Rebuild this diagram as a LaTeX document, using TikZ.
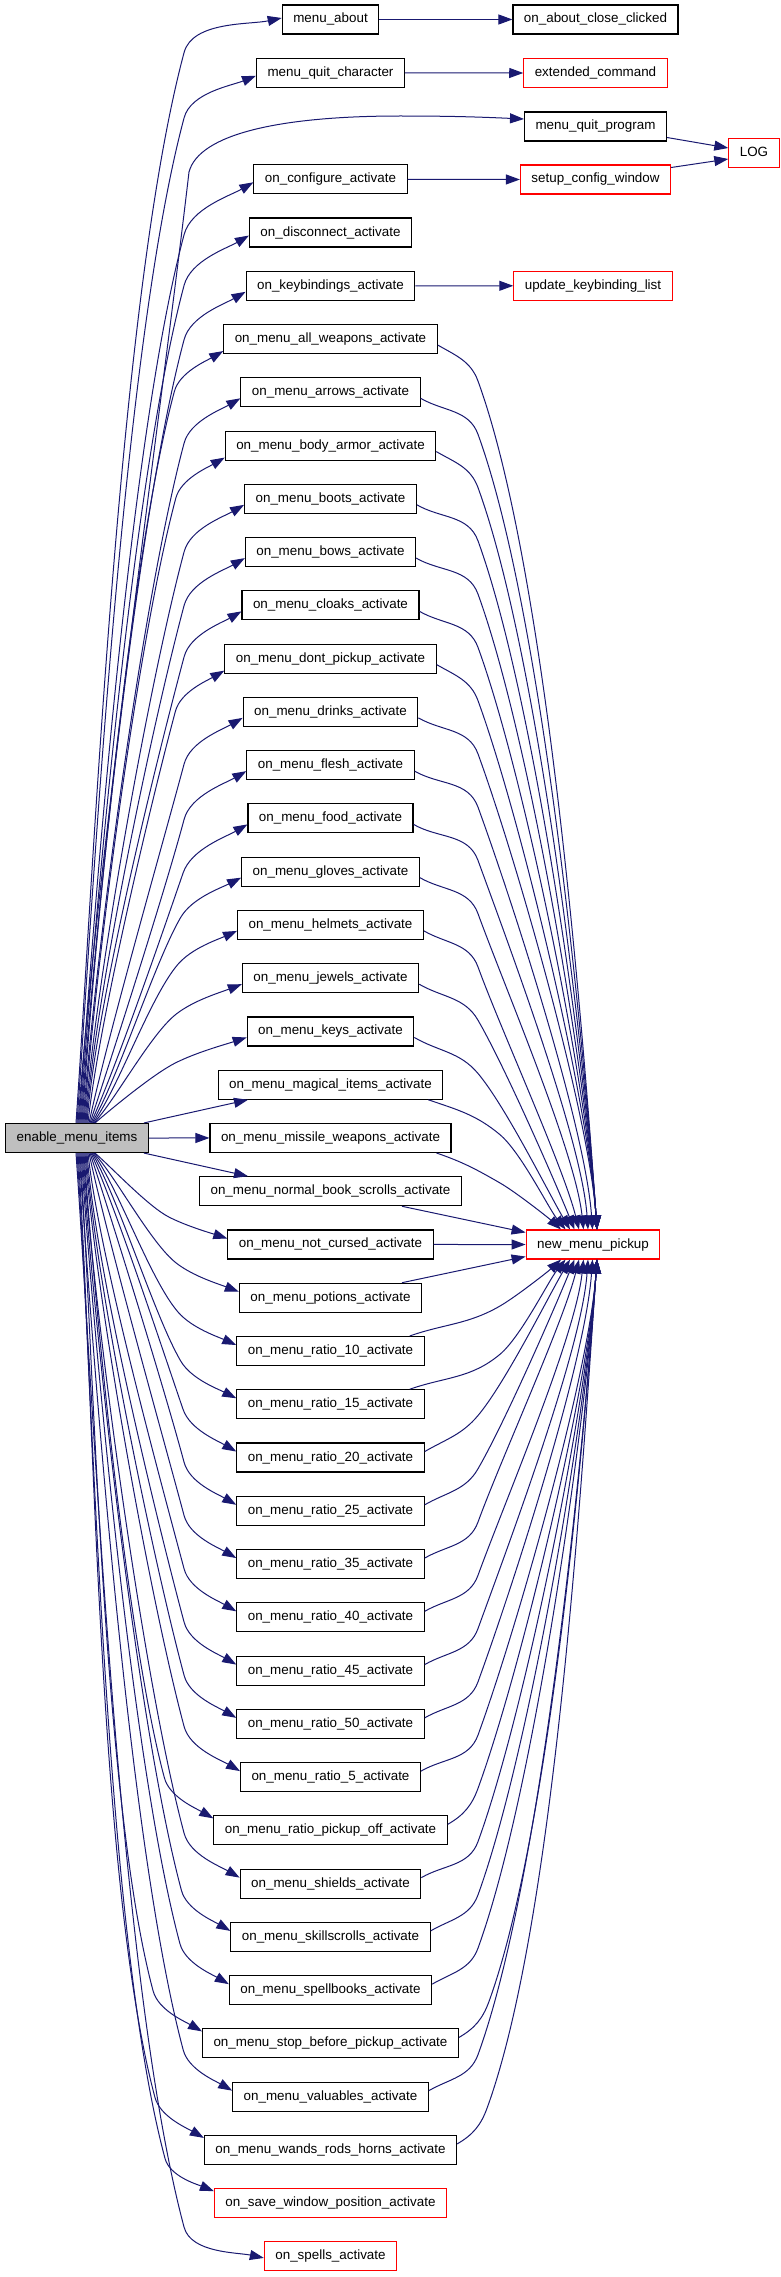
\documentclass[tikz,border=0pt]{standalone}
\usepackage{fontspec}
\setmainfont{Liberation Sans}
\usetikzlibrary{arrows.meta,calc}
\definecolor{edgeblue}{HTML}{191970}
\definecolor{boxgray}{HTML}{BFBFBF}
\newdimen\mywx
\newdimen\mywy
% two cubic pieces: start -> knee -> end, control points computed from
% \qSx \qSy \qSa (start, angle) \qKx \qKy \qKh (knee, heading) \qEx \qEy \qEh (end, heading)
\newcommand\twoseg[3]{%
  \pgfmathsetmacro\vda{\qfa*100*sqrt((((\qKx)-(\qSx))/100)^2+(((\qKy)-(\qSy))/100)^2)}%
  \pgfmathsetmacro\vdb{\qfb*100*sqrt((((\qEx)-(\qKx))/100)^2+(((\qEy)-(\qKy))/100)^2)}%
  \coordinate (#3a) at ({(\qSx)+(\vda)*cos(\qSa)},{(\qSy)+(\vda)*sin(\qSa)});
  \coordinate (#3b) at ({(\qKx)-(\vda)*cos(\qKh)},{(\qKy)-(\vda)*sin(\qKh)});
  \coordinate (#3k) at (\qKx,\qKy);
  \coordinate (#3c) at ({(\qKx)+(\vdb)*cos(\qKh)},{(\qKy)+(\vdb)*sin(\qKh)});
  \coordinate (#3d) at ({(\qEx)-(\vdb)*cos(\qEh)},{(\qEy)-(\vdb)*sin(\qEh)});
  \draw[edge] #1 .. controls (#3a) and (#3b) .. (#3k) .. controls (#3c) and (#3d) .. #2;
}
\begin{document}
\begin{tikzpicture}[x=1pt,y=1pt,
  box/.style={draw=black, line width=1.1pt, fill=white, inner xsep=11pt, inner ysep=0pt,
    minimum height=29pt, text height=10pt, text depth=3pt, font=\fontsize{13.4pt}{16pt}\selectfont},
  redbox/.style={box, draw=red},
  edge/.style={draw=edgeblue, line width=1pt, -{Triangle[length=14pt,width=10pt]}},
]
\useasboundingbox (0,0) rectangle (781,-2277);

% ---------- nodes ----------
\node[box, fill=boxgray] (en) at (77,-1138) {enable\_menu\_items};

\foreach \i/\t/\s in {
 0/menu\_about/box,
 1/menu\_quit\_character/box,
 3/on\_configure\_activate/box,
 4/on\_disconnect\_activate/box,
 5/on\_keybindings\_activate/box,
 6/on\_menu\_all\_weapons\_activate/box,
 7/on\_menu\_arrows\_activate/box,
 8/on\_menu\_body\_armor\_activate/box,
 9/on\_menu\_boots\_activate/box,
 10/on\_menu\_bows\_activate/box,
 11/on\_menu\_cloaks\_activate/box,
 12/on\_menu\_dont\_pickup\_activate/box,
 13/on\_menu\_drinks\_activate/box,
 14/on\_menu\_flesh\_activate/box,
 15/on\_menu\_food\_activate/box,
 16/on\_menu\_gloves\_activate/box,
 17/on\_menu\_helmets\_activate/box,
 18/on\_menu\_jewels\_activate/box,
 19/on\_menu\_keys\_activate/box,
 20/on\_menu\_magical\_items\_activate/box,
 21/on\_menu\_missile\_weapons\_activate/box,
 22/on\_menu\_normal\_book\_scrolls\_activate/box,
 23/on\_menu\_not\_cursed\_activate/box,
 24/on\_menu\_potions\_activate/box,
 25/on\_menu\_ratio\_10\_activate/box,
 26/on\_menu\_ratio\_15\_activate/box,
 27/on\_menu\_ratio\_20\_activate/box,
 28/on\_menu\_ratio\_25\_activate/box,
 29/on\_menu\_ratio\_35\_activate/box,
 30/on\_menu\_ratio\_40\_activate/box,
 31/on\_menu\_ratio\_45\_activate/box,
 32/on\_menu\_ratio\_50\_activate/box,
 33/on\_menu\_ratio\_5\_activate/box,
 34/on\_menu\_ratio\_pickup\_off\_activate/box,
 35/on\_menu\_shields\_activate/box,
 36/on\_menu\_skillscrolls\_activate/box,
 37/on\_menu\_spellbooks\_activate/box,
 38/on\_menu\_stop\_before\_pickup\_activate/box,
 39/on\_menu\_valuables\_activate/box,
 40/on\_menu\_wands\_rods\_horns\_activate/box,
 41/on\_save\_window\_position\_activate/redbox,
 42/on\_spells\_activate/redbox}
{
  \pgfmathsetmacro\vy{-(19.5+53.26*\i)}
  \node[\s] (m\i) at (330.5,\vy) {\t};
}

\node[box]    (about) at (595.5,-19.5)  {on\_about\_close\_clicked};
\node[redbox] (ext)   at (595.5,-73)    {extended\_command};
\node[box]    (qp)    at (595.5,-126.5) {menu\_quit\_program};
\node[redbox] (cfg)   at (595.5,-179.5) {setup\_config\_window};
\node[redbox] (upd)   at (593,-285.8)   {update\_keybinding\_list};
\node[redbox] (nmp)   at (593,-1244.5)  {new\_menu\_pickup};
\node[redbox] (log)   at (754,-153)     {LOG};

% ---------- simple edges ----------
\draw[edge] (m0.east) -- (about.west);
\draw[edge] (m1.east) -- (ext.west);
\draw[edge] (m3.east) -- (cfg.west);
\draw[edge] (m5.east) -- (upd.west);
\draw[edge] ($(qp.east)+(0,-11)$) -- ($(log.west)+(0,5)$);
\draw[edge] ($(cfg.east)+(0,12)$) -- ($(log.west)+(0,-6)$);

\draw[edge] ($(en.north east)+(-5,0)$) -- ($(m20.south)+(-82.5,0)$);
\draw[edge] (en.east) -- (m21.west);
\draw[edge] ($(en.south east)+(-5,0)$) -- ($(m22.north)+(-82.5,0)$);
\draw[edge] ($(m22.south)+(71.5,0)$) -- ($(nmp.north west)+(0,-3)$);
\draw[edge] (m23.east) -- (nmp.west);
\draw[edge] ($(m24.north)+(71.5,0)$) -- ($(nmp.south west)+(0,3)$);

% enable -> menu_quit_program (arc over the middle column)
\coordinate (qa) at (96,-870);
\coordinate (qb) at (160,-420);
\coordinate (qk) at (189,-172);
\coordinate (qc) at (199,-134);
\coordinate (qd) at (280,-116);
\coordinate (qtop) at (400,-116);
\coordinate (qe) at (450,-116);
\coordinate (qf) at (480,-117);
\draw[edge] ($(en.north)+(1,0)$) .. controls (qa) and (qb) .. (qk)
  .. controls (qc) and (qd) .. (qtop) .. controls (qe) and (qf) .. ($(qp.west)+(0,7.5)$);

% ---------- enable -> upper rows ----------
\foreach \i in {0,1,3,4,5,6,7,8,9,10,11,12,13,14,15,16,17,18,19} {
  \pgfextractx{\mywx}{\pgfpointanchor{m\i}{west}}
  \pgfextracty{\mywy}{\pgfpointanchor{m\i}{west}}
  \pgfmathtruncatemacro\vn{21-\i}
  \pgfmathsetmacro\qSa{min(86,30+6*\vn)}
  \pgfmathsetmacro\qKh{min(75,5+11*\vn)}
  \pgfmathsetmacro\qEh{min(30,12+3*\vn)}
  \ifnum\vn=21 \def\qEh{12}\fi
  \ifnum\vn=20 \def\qEh{22}\fi
  \ifdim\mywx<225pt \def\voff{12}\else \def\voff{6}\fi
  \ifnum\vn>16 \def\voff{3}\fi
  \ifnum\vn=21 \def\voff{-1.5}\fi
  \pgfmathsetmacro\vdy{-(\voff)}
  \pgfmathsetmacro\qEx{\mywx}
  \pgfmathsetmacro\qEy{\mywy+(\vdy)}
  \pgfmathsetmacro\vcx{min(188,(\qEx)-45)}
  \pgfmathsetmacro\vcy{(\qEy)-((\qEx)-(\vcx))*tan(\qEh)}
  \pgfmathsetmacro\qKx{(\vcx)-15*cos(\qKh)}
  \pgfmathsetmacro\qKy{(\vcy)-15*sin(\qKh)}
  \pgfmathsetmacro\vsx{20-\vn}
  \pgfmathsetmacro\qSx{77+(\vsx)}
  \def\qSy{-1123.5}
  \def\qfa{0.235}\def\qfb{0.313}
  \twoseg{($(en.north)+(\vsx,0)$)}{($(m\i.west)+(0,\vdy)$)}{lu\i}
}

% ---------- enable -> lower rows ----------
\foreach \i in {23,24,25,26,27,28,29,30,31,32,33,34,35,36,37,38,39,40,41,42} {
  \pgfextractx{\mywx}{\pgfpointanchor{m\i}{west}}
  \pgfextracty{\mywy}{\pgfpointanchor{m\i}{west}}
  \pgfmathtruncatemacro\vn{\i-21}
  \pgfmathsetmacro\qSa{-min(86,30+6*\vn)}
  \pgfmathsetmacro\qKh{-min(75,5+11*\vn)}
  \pgfmathsetmacro\qEh{-min(30,12+3*\vn)}
  \ifnum\vn=21 \def\qEh{-12}\fi
  \ifnum\vn=20 \def\qEh{-22}\fi
  \ifdim\mywx<225pt \def\voff{12}\else \def\voff{6}\fi
  \ifnum\vn=21 \def\voff{-1.5}\fi
  \pgfmathsetmacro\vdy{\voff}
  \pgfmathsetmacro\qEx{\mywx}
  \pgfmathsetmacro\qEy{\mywy+(\vdy)}
  \pgfmathsetmacro\vcx{min(188,(\qEx)-45)}
  \pgfmathsetmacro\vcy{(\qEy)-((\qEx)-(\vcx))*tan(\qEh)}
  \pgfmathsetmacro\qKx{(\vcx)-15*cos(\qKh)}
  \pgfmathsetmacro\qKy{(\vcy)-15*sin(\qKh)}
  \pgfmathsetmacro\vsx{20-\vn}
  \pgfmathsetmacro\qSx{77+(\vsx)}
  \def\qSy{-1152.5}
  \def\qfa{0.235}\def\qfb{0.313}
  \twoseg{($(en.south)+(\vsx,0)$)}{($(m\i.west)+(0,\vdy)$)}{ld\i}
}

% ---------- upper rows -> new_menu_pickup ----------
\foreach \i in {6,7,8,9,10,11,12,13,14,15,16,17,18,19,20,21} {
  \pgfextractx{\mywx}{\pgfpointanchor{m\i}{east}}
  \pgfextracty{\mywy}{\pgfpointanchor{m\i}{east}}
  \pgfmathtruncatemacro\vn{23-\i}
  \pgfmathsetmacro\qKh{-min(70,10+10*\vn)}
  \pgfmathsetmacro\qEh{-min(86,28+8*\vn)}
  \pgfmathsetmacro\vtx{min(597,561+4.5*(\vn-2))-593}
  \pgfmathsetmacro\qEx{593+(\vtx)}
  \def\qEy{-1230}
  \ifnum\vn<4
    \coordinate (rs\i) at ($(m\i.south east)+(-15,0)$);
    \pgfmathsetmacro\qSx{\mywx-15}
    \pgfmathsetmacro\qSy{\mywy-14.5}
    \def\qSa{-20}
    \def\qKx{500}
    \ifnum\vn<3 \pgfmathsetmacro\qKy{\mywy-45}\else \pgfmathsetmacro\qKy{\mywy-50}\fi
  \else
    \coordinate (rs\i) at ($(m\i.east)+(0,-6)$);
    \pgfmathsetmacro\qSx{\mywx}
    \pgfmathsetmacro\qSy{\mywy-6}
    \def\qSa{-30}
    \pgfmathsetmacro\qKx{max(478,\mywx+30)}
    \pgfmathsetmacro\qKy{\mywy-42}
  \fi
  \def\qfa{0.3915}\def\qfb{0.235}
  \twoseg{(rs\i)}{($(nmp.north)+(\vtx,0)$)}{ru\i}
}

% ---------- lower rows -> new_menu_pickup ----------
\foreach \i in {25,26,27,28,29,30,31,32,33,34,35,36,37,38,39,40} {
  \pgfextractx{\mywx}{\pgfpointanchor{m\i}{east}}
  \pgfextracty{\mywy}{\pgfpointanchor{m\i}{east}}
  \pgfmathtruncatemacro\vn{\i-23}
  \pgfmathsetmacro\qKh{min(70,10+10*\vn)}
  \pgfmathsetmacro\qEh{min(86,28+8*\vn)}
  \pgfmathsetmacro\vtx{min(597,561+4.5*(\vn-2))-593}
  \pgfmathsetmacro\qEx{593+(\vtx)}
  \def\qEy{-1259}
  \ifnum\vn<4
    \coordinate (rs\i) at ($(m\i.north east)+(-15,0)$);
    \pgfmathsetmacro\qSx{\mywx-15}
    \pgfmathsetmacro\qSy{\mywy+14.5}
    \def\qSa{20}
    \def\qKx{500}
    \ifnum\vn<3 \pgfmathsetmacro\qKy{\mywy+45}\else \pgfmathsetmacro\qKy{\mywy+50}\fi
  \else
    \coordinate (rs\i) at ($(m\i.east)+(0,6)$);
    \pgfmathsetmacro\qSx{\mywx}
    \pgfmathsetmacro\qSy{\mywy+6}
    \def\qSa{30}
    \pgfmathsetmacro\qKx{max(478,\mywx+30)}
    \pgfmathsetmacro\qKy{\mywy+42}
  \fi
  \def\qfa{0.3915}\def\qfb{0.235}
  \twoseg{(rs\i)}{($(nmp.south)+(\vtx,0)$)}{rd\i}
}
\end{tikzpicture}
\end{document}
